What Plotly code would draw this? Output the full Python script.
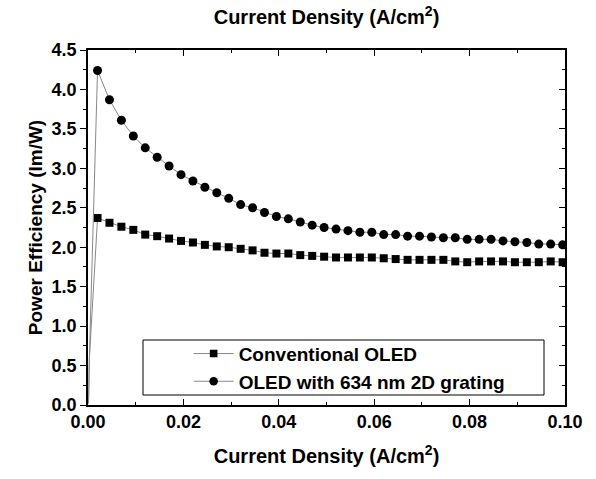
import plotly.graph_objects as go

# Data
x_start = [0.0001, 0.0003]
conv_start = [0.02, 0.6]
grat_start = [0.02, 0.62]

x_main = [0.002 + 0.0025 * k for k in range(40)]
conventional = [2.37, 2.31, 2.26, 2.22, 2.16, 2.14, 2.11, 2.08, 2.06, 2.03,
                2.01, 2.00, 1.98, 1.96, 1.93, 1.92, 1.92, 1.90, 1.89, 1.88,
                1.87, 1.87, 1.87, 1.87, 1.86, 1.85, 1.84, 1.84, 1.84, 1.84,
                1.82, 1.81, 1.82, 1.82, 1.82, 1.81, 1.81, 1.81, 1.82, 1.81]
grating = [4.24, 3.87, 3.61, 3.41, 3.26, 3.14, 3.03, 2.92, 2.84, 2.76,
           2.69, 2.62, 2.54, 2.50, 2.44, 2.39, 2.36, 2.32, 2.28, 2.25,
           2.23, 2.21, 2.19, 2.19, 2.16, 2.16, 2.14, 2.14, 2.13, 2.12,
           2.12, 2.10, 2.10, 2.10, 2.08, 2.07, 2.06, 2.04, 2.04, 2.03]

x_conv = x_start + x_main
y_conv = conv_start + conventional
x_grat = x_start + x_main
y_grat = grat_start + grating

x_ticks = [0.0, 0.02, 0.04, 0.06, 0.08, 0.10]
y_ticks = [0.0, 0.5, 1.0, 1.5, 2.0, 2.5, 3.0, 3.5, 4.0, 4.5]

FONT = "Liberation Sans, Arial, sans-serif"

sq_sizes = [0] * len(x_start) + [8] * len(x_main)
ci_sizes = [0] * len(x_start) + [9] * len(x_main)

fig = go.Figure()
fig.add_trace(go.Scatter(
    x=x_conv, y=y_conv, mode="lines+markers", name="<b>Conventional OLED</b>",
    line=dict(color="#888888", width=1),
    marker=dict(symbol="square", size=sq_sizes, color="black", opacity=1,
                line=dict(width=0, color="black")),
))
fig.add_trace(go.Scatter(
    x=x_grat, y=y_grat, mode="lines+markers", name="<b>OLED with 634 nm 2D grating</b>",
    line=dict(color="#888888", width=1),
    marker=dict(symbol="circle", size=ci_sizes, color="black", opacity=1,
                line=dict(width=0, color="black")),
))
# invisible trace to drive top/right axes
fig.add_trace(go.Scatter(x=[0, 0.1], y=[0, 4.5], xaxis="x2", yaxis="y2",
                         mode="markers", marker=dict(opacity=0), showlegend=False,
                         hoverinfo="skip"))

axis_font = dict(family=FONT, size=18, color="black")
title_font = dict(family=FONT, size=20, color="black")
fig.update_layout(
    width=596, height=479,
    margin=dict(l=88, r=31, t=50, b=74),
    paper_bgcolor="white", plot_bgcolor="white",
    font=dict(family=FONT, color="black"),
    showlegend=True,
    legend=dict(x=0.211, y=0.198, xanchor="left", yanchor="top",
                borderwidth=0, bgcolor="rgba(0,0,0,0)",
                font=dict(family=FONT, size=19, color="black"),
                tracegroupgap=0, itemwidth=40),
    shapes=[dict(type="rect", xref="paper", yref="paper",
                 x0=(143 - 88) / 477, x1=(544 - 88) / 477,
                 y0=(405 - 395) / 355, y1=(405 - 340) / 355,
                 line=dict(color="black", width=1), fillcolor="white", layer="below")],
    xaxis=dict(range=[0, 0.1], tickvals=x_ticks, ticktext=[f"<b>{v:.2f}</b>" for v in x_ticks],
               ticks="inside", ticklen=6, tickwidth=1, tickcolor="black",
               minor=dict(dtick=0.01, ticks="inside", ticklen=3, tickcolor="black"),
               showline=True, linecolor="black", linewidth=1.5, showgrid=False, zeroline=False,
               tickfont=axis_font,
               title=dict(text="<b>Current Density (A/cm<sup>2</sup>)</b>",
                          font=title_font, standoff=18)),
    yaxis=dict(range=[0, 4.5], tickvals=y_ticks, ticktext=[f"<b>{v:.1f}</b>" for v in y_ticks],
               ticks="outside", ticklen=6, tickwidth=1, tickcolor="black",
               minor=dict(dtick=0.25, ticks="outside", ticklen=3, tickcolor="black"),
               showline=True, linecolor="black", linewidth=1.5, showgrid=False, zeroline=False,
               tickfont=axis_font,
               title=dict(text="<b>Power Efficiency (lm/W)</b>",
                          font=dict(family=FONT, size=19, color="black"), standoff=4)),
    xaxis2=dict(range=[0, 0.1], overlaying="x", side="top", tickvals=x_ticks,
                showticklabels=False, ticks="inside", ticklen=6, tickcolor="black",
                minor=dict(dtick=0.01, ticks="inside", ticklen=3, tickcolor="black"),
                showline=True, linecolor="black", linewidth=1.5, showgrid=False, zeroline=False,
                title=dict(text="<b>Current Density (A/cm<sup>2</sup>)</b>",
                           font=title_font, standoff=18)),
    yaxis2=dict(range=[0, 4.5], overlaying="y", side="right", tickvals=y_ticks,
                showticklabels=False, ticks="inside", ticklen=6, tickcolor="black",
                minor=dict(dtick=0.25, ticks="inside", ticklen=3, tickcolor="black"),
                showline=True, linecolor="black", linewidth=1.5, showgrid=False, zeroline=False),
)

fig.write_html("out.html")
